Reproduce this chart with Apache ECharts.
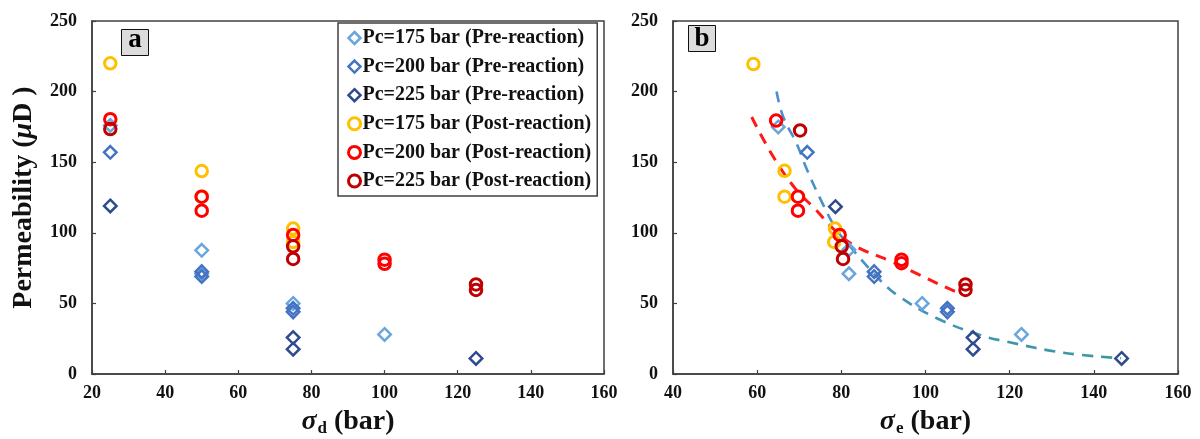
<!DOCTYPE html>
<html>
<head>
<meta charset="utf-8">
<script src="https://cdn.jsdelivr.net/npm/echarts@6/dist/echarts.min.js"></script>
<style>
html,body{margin:0;padding:0;background:#fff;}
#chart{width:1200px;height:439px;}
</style>
</head>
<body>
<div id="chart"></div>
<script>
// ---- Data ----
const seriesNames = [
  'Pc=175 bar (Pre-reaction)',
  'Pc=200 bar (Pre-reaction)',
  'Pc=225 bar (Pre-reaction)',
  'Pc=175 bar (Post-reaction)',
  'Pc=200 bar (Post-reaction)',
  'Pc=225 bar (Post-reaction)'
];
// Panel a: [sigma_d (bar), permeability (uD)]
const a_pre175  = [[25,176],[50,87.6],[50,71],[75,50],[100,28]];
const a_pre200  = [[25,157],[50,72.5],[50,69],[75,46.5],[75,44]];
const a_pre225  = [[25,119],[75,25.8],[75,17.6],[125,11]];
const a_post175 = [[25,220],[50,143.7],[50,125.6],[75,103],[75,93.5]];
const a_post200 = [[25,180.5],[50,125.6],[50,115.7],[75,98.5],[100,81],[100,78]];
const a_post225 = [[25,173.5],[75,90.4],[75,81.5],[125,63.4],[125,59.5]];
// Panel b: [sigma_e (bar), permeability (uD)]
const b_pre175  = [[65,175],[81.8,88],[81.8,71],[99.2,50],[122.8,28]];
const b_pre200  = [[71.9,157],[87.8,72.5],[87.8,69],[105.2,46.5],[105.2,44]];
const b_pre225  = [[78.6,118.5],[111.3,25.8],[111.3,17.6],[146.6,11]];
const b_post175 = [[59.1,219.5],[66.5,143.9],[66.5,125.6],[78.5,103],[78.3,93.5]];
const b_post200 = [[64.5,179.5],[69.7,125.6],[69.7,115.7],[79.6,98.5],[94.3,81],[94.3,78.5]];
const b_post225 = [[70.2,172.5],[80.1,90.4],[80.4,81.5],[109.5,63.4],[109.5,59.5]];
// Dashed trend lines in panel b
const trendPre  = [[64.6,200],[66.2,182],[69.4,163],[71.8,145],[75.5,121],[78.9,102],[81.3,93],[88.4,69],[93.2,56],[102.7,39.5],[113,27.6],[119.3,22.9],[132.8,15],[146.4,11.2]];
const trendPost = [[58.7,182],[63.8,154],[69.4,130],[73.4,118],[79.1,100],[83.7,90],[91.6,80],[98.7,70],[106.6,59],[108.8,57]];
// Axis ticks
const yTicks = {min:0, max:250, interval:50};
const xTicksA = {min:20, max:160, interval:20};
const xTicksB = {min:40, max:160, interval:20};

// ---- Styles ----
const colors = ['#6aa6dc','#4472c4','#2f4a8e','#ffc000','#ff0000','#c00000'];
const shapes = ['diamond','diamond','diamond','circle','circle','circle'];
const serif = '"Liberation Serif","Times New Roman",serif';
const axisColor = '#404040';

function scatter(idx, data, grid){
  const isDiamond = shapes[idx]==='diamond';
  return {
    type:'scatter', name: seriesNames[idx], data: data,
    xAxisIndex: grid, yAxisIndex: grid,
    symbol: shapes[idx], symbolSize: isDiamond ? 12.5 : 11.5,
    itemStyle:{color:'rgba(0,0,0,0)', borderColor: colors[idx], borderWidth: isDiamond ? 2.5 : 3, opacity:1},
    emphasis:{disabled:true}, z: 3
  };
}

function xAxis(grid, ticks, sub){
  return {
    type:'value', gridIndex: grid, min:ticks.min, max:ticks.max, interval:ticks.interval,
    axisLine:{show:true, onZero:false, lineStyle:{color:axisColor, width:1.5}},
    axisTick:{show:true, inside:true, length:4, lineStyle:{color:axisColor, width:1.2}},
    splitLine:{show:false},
    axisLabel:{fontFamily:serif, fontWeight:'bold', fontSize:18, color:'#111', margin:10},
    name:'{i|σ}{s|' + sub + '}{b| (bar)}', nameLocation:'middle', nameGap:33,
    nameTextStyle:{
      rich:{
        i:{fontFamily:serif, fontStyle:'italic', fontWeight:'bold', fontSize:28, color:'#111', lineHeight:30, verticalAlign:'middle'},
        s:{fontFamily:serif, fontWeight:'bold', fontSize:17, color:'#111', lineHeight:30, verticalAlign:'bottom', padding:[0,0,0,1]},
        b:{fontFamily:serif, fontWeight:'bold', fontSize:28, color:'#111', lineHeight:30, verticalAlign:'middle'}
      }
    }
  };
}
function yAxis(grid, withName){
  const ax = {
    type:'value', gridIndex: grid, min:yTicks.min, max:yTicks.max, interval:yTicks.interval,
    axisLine:{show:true, onZero:false, lineStyle:{color:axisColor, width:1.5}},
    axisTick:{show:true, inside:true, length:4, lineStyle:{color:axisColor, width:1.2}},
    splitLine:{show:false},
    axisLabel:{fontFamily:serif, fontWeight:'bold', fontSize:18, color:'#111', margin:15}
  };
  if (withName){
    ax.name = '{b|Permeability (}{i|μ}{b|D )}';
    ax.nameLocation = 'middle';
    ax.nameGap = 52;
    ax.nameTextStyle = {
      rich:{
        b:{fontFamily:serif, fontWeight:'bold', fontSize:28, color:'#111', lineHeight:32},
        i:{fontFamily:serif, fontStyle:'italic', fontWeight:'bold', fontSize:28, color:'#111', lineHeight:32}
      }
    };
  }
  return ax;
}

const chart = echarts.init(document.getElementById('chart'), null, {renderer:'canvas'});
const option = {
  animation:false,
  backgroundColor:'#fff',
  grid:[
    {left:92, top:21, width:512, height:353, show:true, borderColor:axisColor, borderWidth:1.5, backgroundColor:'transparent', containLabel:false, outerBoundsMode:'none'},
    {left:673, top:21, width:505, height:353, show:true, borderColor:axisColor, borderWidth:1.5, backgroundColor:'transparent', containLabel:false, outerBoundsMode:'none'}
  ],
  xAxis:[xAxis(0, xTicksA, 'd'), xAxis(1, xTicksB, 'e')],
  yAxis:[yAxis(0, true), yAxis(1, false)],
  legend:{
    orient:'vertical', left:338, top:23,
    backgroundColor:'#fff', borderColor:axisColor, borderWidth:1.5, borderRadius:0,
    padding:[5,6,5,9], itemGap:8.6, itemWidth:12, itemHeight:12,
    selectedMode:false,
    textStyle:{fontFamily:serif, fontWeight:'bold', fontSize:20, color:'#111', lineHeight:20, padding:[0,0,0,-3]},
    data: seriesNames.map((n,i)=>({
      name:n, icon: shapes[i],
      itemStyle:{color:'#fff', borderColor:colors[i], borderWidth: shapes[i]==='diamond'?2.5:3}
    }))
  },
  series:[
    scatter(0,a_pre175,0), scatter(1,a_pre200,0), scatter(2,a_pre225,0),
    scatter(3,a_post175,0), scatter(4,a_post200,0), scatter(5,a_post225,0),
    {
      type:'line', name:'trendPre', data:trendPre, xAxisIndex:1, yAxisIndex:1,
      smooth:0.4, showSymbol:false, symbol:'none', z:2, silent:true,
      lineStyle:{width:2.6, type:[11,8],
        color:{type:'linear', x:0, y:0, x2:1, y2:0, colorStops:[{offset:0,color:'#4a8fd0'},{offset:1,color:'#3a9a9a'}]}}
    },
    {
      type:'line', name:'trendPost', data:trendPost, xAxisIndex:1, yAxisIndex:1,
      smooth:0.4, showSymbol:false, symbol:'none', z:2, silent:true,
      lineStyle:{width:3, type:[11,8], color:'#ff1a1a'}
    },
    scatter(0,b_pre175,1), scatter(1,b_pre200,1), scatter(2,b_pre225,1),
    scatter(3,b_post175,1), scatter(4,b_post200,1), scatter(5,b_post225,1)
  ],
  graphic:[
    {type:'group', left:121, top:27, children:[
      {type:'rect', shape:{x:0,y:0,width:27,height:26}, style:{fill:'#dcdcdc', stroke:'#111', lineWidth:1}},
      {type:'text', x:13.5, y:11, style:{text:'a', fontFamily:serif, fontWeight:'bold', fontSize:27, fill:'#000', align:'center', verticalAlign:'middle'}}
    ]},
    {type:'group', left:688, top:25, children:[
      {type:'rect', shape:{x:0,y:0,width:27,height:26}, style:{fill:'#dcdcdc', stroke:'#111', lineWidth:1}},
      {type:'text', x:13.5, y:14, style:{text:'b', fontFamily:serif, fontWeight:'bold', fontSize:27, fill:'#000', align:'center', verticalAlign:'middle'}}
    ]}
  ]
};
chart.setOption(option);
</script>
</body>
</html>
